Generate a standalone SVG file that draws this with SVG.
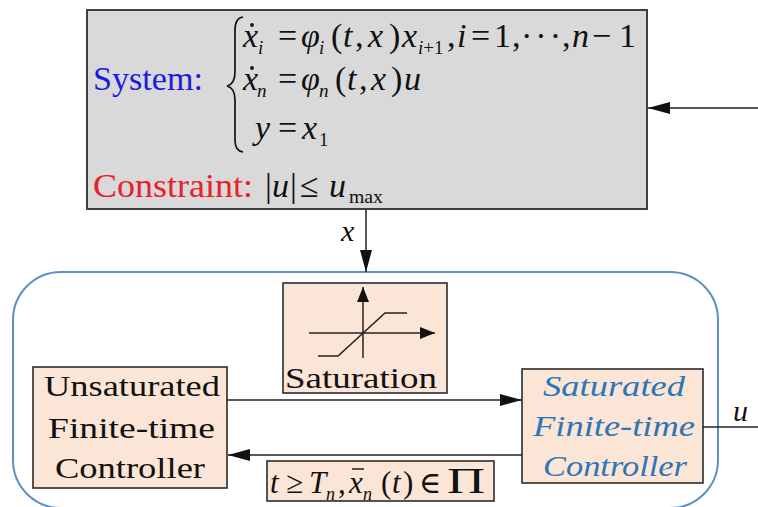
<svg xmlns="http://www.w3.org/2000/svg" width="758" height="507" viewBox="0 0 758 507">
<style>
text{font-family:"Liberation Serif","Times New Roman",serif;fill:#111}
.m{font-style:italic;font-size:34px}
.r{font-size:34px}
.s{font-style:italic;font-size:19px}
.sr{font-size:19px}
.lbl{font-size:29px}
.blue{font-style:italic;font-size:29px;fill:#2f75b5}
.c{font-style:italic;font-size:31px}
.cr{font-size:31px}
.cs{font-style:italic;font-size:18px}
.box{fill:#fbe5d6;stroke:#2b2b2b;stroke-width:1.6}
.ln{stroke:#222;stroke-width:1.5;fill:none}
.dot{fill:#111}
</style>
<defs>
<marker id="ah" markerUnits="userSpaceOnUse" markerWidth="22" markerHeight="12" refX="22" refY="6" orient="auto"><path d="M0,0 L22,6 L0,12 z" fill="#111"/></marker>
<marker id="ahs" markerUnits="userSpaceOnUse" markerWidth="15" markerHeight="12" refX="15" refY="6" orient="auto"><path d="M0,0 L15,6 L0,12 z" fill="#111"/></marker>
</defs>
<rect width="758" height="507" fill="#fff"/>

<g id="controller-region">
<rect x="13" y="272" width="705" height="236" rx="48" ry="48" fill="none" stroke="#5b8fc7" stroke-width="2"/>
</g>

<g id="system">
<rect x="87" y="10" width="560" height="199" fill="#d9d9d9" stroke="#404040" stroke-width="2"/>
<text x="93" y="90" style="font-size:34px;fill:#1a1ae6" textLength="110" lengthAdjust="spacingAndGlyphs">System:</text>
<path d="M243,17 Q235,18 235,30 L235,72 Q235,84 227,86 Q235,88 235,100 L235,140 Q235,151 243,152" fill="none" stroke="#111" stroke-width="1.7"/>
<!-- line 1 -->
<text class="m" x="243" y="47">x</text><circle class="dot" cx="252" cy="25" r="1.9"/>
<text class="s" x="258" y="54">i</text>
<text class="r" x="278" y="47">=</text>
<text class="m" x="301" y="47">φ</text><text class="s" x="319" y="54">i</text>
<text class="r" x="331" y="47">(</text><text class="m" x="343" y="47">t</text><text class="r" x="355" y="47">,</text>
<text class="m" x="368" y="47">x</text><text class="r" x="389" y="47">)</text>
<text class="m" x="402" y="47">x</text><text x="418" y="54"><tspan class="s">i</tspan><tspan class="sr">+1</tspan></text>
<text class="r" x="447" y="47">,</text><text class="m" x="457" y="47">i</text>
<text class="r" x="471" y="47">=</text><text class="r" x="494" y="47">1</text><text class="r" x="512" y="47">,</text>
<text class="r" x="521" y="47" textLength="40" lengthAdjust="spacing">···</text>
<text class="r" x="562" y="47">,</text><text class="m" x="572" y="47">n</text>
<text class="r" x="592" y="47">−</text><text class="r" x="619" y="47">1</text>
<!-- line 2 -->
<text class="m" x="243" y="90">x</text><circle class="dot" cx="252" cy="68" r="1.9"/>
<text class="s" x="257" y="97">n</text>
<text class="r" x="278" y="90">=</text>
<text class="m" x="301" y="90">φ</text><text class="s" x="319" y="97">n</text>
<text class="r" x="335" y="90">(</text><text class="m" x="347" y="90">t</text><text class="r" x="359" y="90">,</text>
<text class="m" x="371" y="90">x</text><text class="r" x="391" y="90">)</text>
<text class="m" x="404" y="90">u</text>
<!-- line 3 -->
<text class="m" x="255" y="139">y</text>
<text class="r" x="278" y="139">=</text>
<text class="m" x="302" y="139">x</text><text class="sr" x="319" y="146">1</text>
<!-- constraint -->
<text x="93" y="197" style="font-size:34px;fill:#e8202a" textLength="160" lengthAdjust="spacingAndGlyphs">Constraint:</text>
<text class="r" x="265" y="197">|</text><text class="m" x="272" y="197">u</text><text class="r" x="290" y="197">|</text>
<text class="r" x="300" y="197">≤</text>
<text class="m" x="329" y="197">u</text><text class="sr" x="349" y="203" textLength="34" lengthAdjust="spacingAndGlyphs">max</text>
</g>

<g id="saturation">
<rect class="box" x="283" y="283" width="164" height="110"/>
<line class="ln" x1="363" y1="358" x2="363" y2="287" marker-end="url(#ahs)"/>
<line class="ln" x1="309" y1="333" x2="435" y2="333" marker-end="url(#ahs)"/>
<polyline class="ln" points="318,356 338,356 385,313 407,313"/>
<text x="285" y="388" style="font-size:30px" textLength="152" lengthAdjust="spacingAndGlyphs">Saturation</text>
</g>

<g id="unsaturated">
<rect class="box" x="33" y="367" width="194" height="121"/>
<text class="lbl" x="44" y="396" textLength="176" lengthAdjust="spacingAndGlyphs">Unsaturated</text>
<text class="lbl" x="48" y="438" textLength="167" lengthAdjust="spacingAndGlyphs">Finite-time</text>
<text class="lbl" x="55" y="478" textLength="150" lengthAdjust="spacingAndGlyphs">Controller</text>
</g>

<g id="saturated">
<rect class="box" x="522" y="369" width="181" height="114"/>
<text class="blue" x="543" y="396" textLength="142" lengthAdjust="spacingAndGlyphs">Saturated</text>
<text class="blue" x="533" y="436" textLength="162" lengthAdjust="spacingAndGlyphs">Finite-time</text>
<text class="blue" x="543" y="476" textLength="144" lengthAdjust="spacingAndGlyphs">Controller</text>
</g>

<g id="switch-condition">
<rect class="box" x="267" y="461" width="227" height="40"/>
<text class="c" x="270" y="493">t</text>
<text class="cr" x="286" y="493">≥</text>
<text class="c" x="309" y="493">T</text><text class="cs" x="326" y="500">n</text>
<text class="cr" x="338" y="493">,</text>
<text class="c" x="349" y="493">x</text><line x1="352" y1="469" x2="364" y2="469" stroke="#111" stroke-width="1.4"/>
<text class="cs" x="363" y="500">n</text>
<text class="cr" x="381" y="493">(</text><text class="c" x="392" y="493">t</text><text class="cr" x="403" y="493">)</text>
<text x="419" y="493" style="font-family:'DejaVu Serif',serif;font-size:30px">∈</text>
<text class="cr" x="447" y="493" style="font-size:35px" textLength="38" lengthAdjust="spacingAndGlyphs">Π</text>
</g>

<g id="connectors">
<line class="ln" x1="758" y1="108" x2="648" y2="108" marker-end="url(#ah)"/>
<line class="ln" x1="366" y1="210" x2="366" y2="272" marker-end="url(#ah)"/>
<line class="ln" x1="227" y1="400" x2="522" y2="400" marker-end="url(#ah)"/>
<line class="ln" x1="522" y1="455" x2="228" y2="455" marker-end="url(#ah)"/>
<line class="ln" x1="703" y1="427" x2="758" y2="427"/>
<text class="m" x="341" y="241" style="font-size:30px">x</text>
<text class="m" x="733" y="421" style="font-size:30px">u</text>
</g>
</svg>
